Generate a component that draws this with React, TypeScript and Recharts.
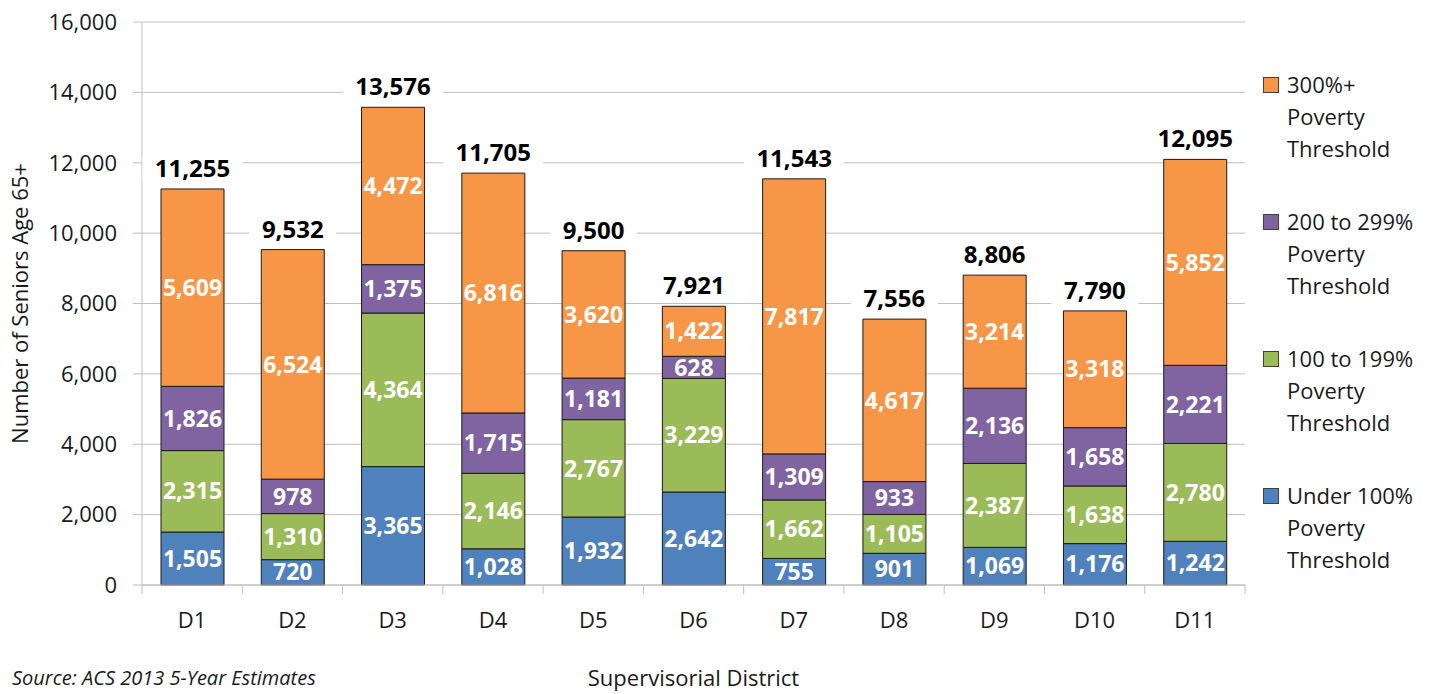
import { BarChart, Bar, XAxis, YAxis, CartesianGrid, LabelList, Label } from "recharts"

const districts = ["D1", "D2", "D3", "D4", "D5", "D6", "D7", "D8", "D9", "D10", "D11"]
const under100 = [1505, 720, 3365, 1028, 1932, 2642, 755, 901, 1069, 1176, 1242]
const from100to199 = [2315, 1310, 4364, 2146, 2767, 3229, 1662, 1105, 2387, 1638, 2780]
const from200to299 = [1826, 978, 1375, 1715, 1181, 628, 1309, 933, 2136, 1658, 2221]
const over300 = [5609, 6524, 4472, 6816, 3620, 1422, 7817, 4617, 3214, 3318, 5852]
const yTicks = [0, 2000, 4000, 6000, 8000, 10000, 12000, 14000, 16000]

const series = [
  { key: "under100", lines: ["Under 100%", "Poverty", "Threshold"], color: "#4f81bd" },
  { key: "from100to199", lines: ["100 to 199%", "Poverty", "Threshold"], color: "#9bbb59" },
  { key: "from200to299", lines: ["200 to 299%", "Poverty", "Threshold"], color: "#8064a2" },
  { key: "over300", lines: ["300%+", "Poverty", "Threshold"], color: "#f79646" },
]

const data = districts.map((district, i) => ({
  district,
  under100: under100[i],
  from100to199: from100to199[i],
  from200to299: from200to299[i],
  over300: over300[i],
  total: under100[i] + from100to199[i] + from200to299[i] + over300[i],
}))

const FONT = "'Open Sans', sans-serif"
const GRID = "#bfbfbf"
const fmt = (v: number) => v.toLocaleString("en-US")

function DistrictTick(props: any) {
  const { x, y, payload, index } = props
  const half = payload.offset ?? 50
  return (
    <g>
      <line x1={x - half} x2={x - half} y1={y} y2={y + 9} stroke={GRID} />
      {index === districts.length - 1 && (
        <line x1={x + half} x2={x + half} y1={y} y2={y + 9} stroke={GRID} />
      )}
      <text x={x} y={y + 43} textAnchor="middle" fontSize={22} fontFamily={FONT} fill="#1a1a1a">
        {payload.value}
      </text>
    </g>
  )
}

function TotalLabel(props: any) {
  const { x, width, y, value } = props
  const cx = x + width / 2
  const text = fmt(value)
  const w = text.length * 13 + 22
  return (
    <g>
      <rect x={cx - w / 2} y={y - 35} width={w} height={29} fill="#ffffff" />
      <text x={cx} y={y - 12} textAnchor="middle" fontSize={24} fontWeight="bold" fontFamily={FONT} fill="#000">
        {text}
      </text>
    </g>
  )
}

function PovertyLegend() {
  const ordered = [...series].reverse()
  return (
    <div style={{ fontFamily: FONT, fontSize: 22, color: "#1a1a1a" }}>
      {ordered.map((s) => (
        <div key={s.key} style={{ display: "flex", alignItems: "flex-start", height: 137 }}>
          <div
            style={{
              width: 14,
              height: 14,
              background: s.color,
              border: "1px solid #404040",
              marginTop: 9,
              marginRight: 8,
              flexShrink: 0,
            }}
          />
          <div style={{ lineHeight: "32px" }}>
            {s.lines.map((l) => (
              <div key={l}>{l}</div>
            ))}
          </div>
        </div>
      ))}
    </div>
  )
}

export default function App() {
  return (
    <div style={{ position: "absolute", left: 0, top: 0, width: 1440, height: 694, background: "#fff", overflow: "hidden" }}>
      <BarChart
        width={1440}
        height={694}
        data={data}
        barSize={63}
        margin={{ top: 22, right: 195, bottom: 0, left: 0 }}
      >
        <CartesianGrid vertical={false} stroke={GRID} />
        <XAxis
          dataKey="district"
          height={109}
          tickSize={0}
          tickMargin={0}
          tick={<DistrictTick />}
          stroke={GRID}
          interval={0}
        >
          <Label
            value="Supervisorial District"
            position="insideBottom"
            offset={8}
            style={{ fontFamily: FONT, fontSize: 22, fill: "#1a1a1a" }}
          />
        </XAxis>
        <YAxis
          width={142}
          domain={[0, 16000]}
          ticks={yTicks}
          tickFormatter={fmt}
          tickSize={9}
          tickMargin={16}
          stroke={GRID}
          tick={{ fontFamily: FONT, fontSize: 22, fill: "#1a1a1a" }}
        >
          <Label
            value="Number of Seniors Age 65+"
            angle={-90}
            position="insideLeft"
            offset={20}
            style={{ fontFamily: FONT, fontSize: 22, fill: "#1a1a1a", textAnchor: "middle" }}
          />
        </YAxis>
        {series.map((s, i) => (
          <Bar
            key={s.key}
            dataKey={s.key}
            stackId="a"
            fill={s.color}
            stroke="#1a1a1a"
            strokeWidth={1}
            isAnimationActive={false}
          >
            <LabelList
              dataKey={s.key}
              position="center"
              formatter={(v: any) => fmt(Number(v))}
              style={{ fontFamily: FONT, fontSize: 23, fontWeight: "bold", fill: "#ffffff" }}
            />
            {i === series.length - 1 && <LabelList dataKey="total" content={<TotalLabel />} />}
          </Bar>
        ))}
      </BarChart>
      <div style={{ position: "absolute", left: 1263, top: 68, width: 177 }}>
        <PovertyLegend />
      </div>
      <div
        style={{
          position: "absolute",
          left: 12,
          top: 664,
          fontFamily: FONT,
          fontSize: 20,
          fontStyle: "italic",
          color: "#1a1a1a",
          whiteSpace: "nowrap",
        }}
      >
        Source: ACS 2013 5-Year Estimates
      </div>
    </div>
  )
}
